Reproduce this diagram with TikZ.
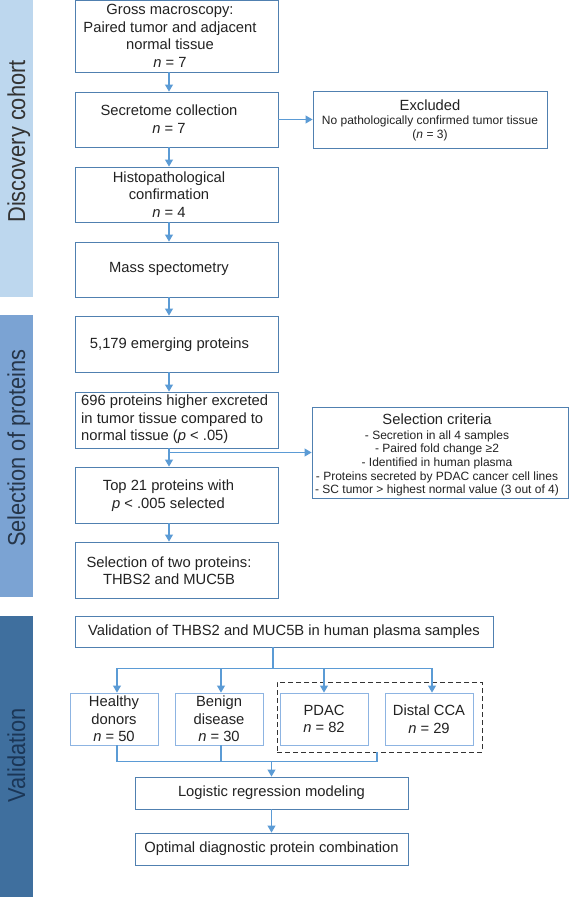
\documentclass[tikz,border=0pt]{standalone}
\usepackage{fontspec}
\setmainfont{Liberation Sans}
\usetikzlibrary{arrows.meta}
\definecolor{boxc}{HTML}{5080B0}
\definecolor{lboxc}{HTML}{8DB4E2}
\definecolor{arrc}{HTML}{5B9BD5}
\definecolor{discc}{HTML}{BDD7EE}
\definecolor{selc}{HTML}{7BA3D3}
\definecolor{valc}{HTML}{3F6F9E}
\definecolor{disct}{HTML}{333333}
\definecolor{selt}{HTML}{26364A}
\definecolor{valt}{HTML}{1B3656}
\definecolor{txtc}{HTML}{222222}
\begin{document}
\begin{tikzpicture}[x=1pt,y=-1pt,
  box/.style={draw=boxc, line width=0.9pt, inner sep=0pt, fill=white},
  lbox/.style={draw=lboxc, line width=0.9pt, inner sep=0pt, fill=white},
  txt/.style={font=\fontsize{14.75}{17.5}\selectfont, text=txtc, align=center, inner sep=0pt},
  small/.style={font=\fontsize{12}{13.6}\selectfont, text=txtc, align=center, inner sep=0pt},
  arr/.style={draw=arrc, line width=1.1pt, -{Triangle[width=8pt,length=7pt]}},
  ln/.style={draw=arrc, line width=1.1pt},
  side/.style={rotate=90, anchor=base, inner sep=0pt, font=\fontsize{24.5}{26}\selectfont}
]
\useasboundingbox (0,0) rectangle (569,899);
\fill[white] (0,0) rectangle (569,899);
% side bars
\fill[discc] (0,0) rectangle (33,297);
\fill[selc] (0,315) rectangle (33,597);
\fill[valc] (0,616) rectangle (33,897);
\node[side, text=disct] (sdisc) at (25,141.5) {\scalebox{0.89}[1]{Discovery cohort}};
\node[side, text=selt] (ssel) at (25,448) {\scalebox{0.89}[1]{Selection of proteins}};
\node[side, text=valt] (sval) at (25,755) {\scalebox{0.89}[1]{Validation}};

% main column boxes
\node[box, minimum width=203pt, minimum height=71.5pt] (b1) at (176.5,36.25) {};
\node[txt] (t1) at (170,36) {Gross macroscopy:\\Paired tumor and adjacent\\normal tissue\\\textit{n} = 7};
\node[box, minimum width=203pt, minimum height=55pt] (b2) at (176.5,119.5) {};
\node[txt] (t2) at (169,119) {Secretome collection\\\textit{n} = 7};
\node[box, minimum width=203pt, minimum height=55pt] (b3) at (176.5,194.5) {};
\node[txt] (t3) at (169,194.5) {Histopathological\\confirmation\\\textit{n} = 4};
\node[box, minimum width=203pt, minimum height=55pt] (b4) at (176.5,269.5) {};
\node[txt] (t4) at (169,269) {Mass spectometry};
\node[box, minimum width=203pt, minimum height=56pt] (b5) at (176.5,344) {};
\node[txt] (t5) at (169.5,345) {5,179 emerging proteins};
\node[box, minimum width=203pt, minimum height=56pt] (b6) at (176.5,420) {};
\node[txt, align=left, anchor=west] (t6) at (81,419.5) {696 proteins higher excreted\\in tumor tissue compared to\\normal tissue (\textit{p} {<} .05)};
\node[box, minimum width=203pt, minimum height=56pt] (b7) at (176.5,495) {};
\node[txt] (t7) at (168.5,495.5) {Top 21 proteins with\\\textit{p} {<} .005 selected};
\node[box, minimum width=203pt, minimum height=56pt] (b8) at (176.5,570) {};
\node[txt] (t8) at (169,570.5) {Selection of two proteins:\\THBS2 and MUC5B};

% side boxes
\node[box, minimum width=234pt, minimum height=57pt] (ex) at (430,119.5) {};
\node[small] (tex) at (430,120) {{\fontsize{14.75}{17}\selectfont Excluded}\\[1pt]No pathologically confirmed tumor tissue\\(\textit{n} = 3)};
\node[box, minimum width=256pt, minimum height=91pt] (sc) at (440,452.5) {};
\node[small] (tsc) at (437,455) {{\fontsize{14.75}{17}\selectfont Selection criteria}\\[1pt]- Secretion in all 4 samples\\- Paired fold change ≥2\\- Identified in human plasma\\- Proteins secreted by PDAC cancer cell lines\\- SC tumor {>} highest normal value (3 out of 4)};

% validation
\node[box, txt, minimum width=418pt, minimum height=31pt] (v) at (284,631.5) {Validation of THBS2 and MUC5B in human plasma samples};
\node[draw=black!80, dash pattern=on 5pt off 3pt, line width=0.9pt, minimum width=205pt, minimum height=70pt, inner sep=0pt] (dash) at (379.5,717) {};
\node[lbox, txt, minimum width=88pt, minimum height=52pt] (hd) at (114,719) {Healthy\\donors\\\textit{n} = 50};
\node[lbox, txt, minimum width=88pt, minimum height=52pt] (bd) at (219,719) {Benign\\disease\\\textit{n} = 30};
\node[lbox, txt, minimum width=88pt, minimum height=52pt] (pd) at (324,719) {PDAC\\\textit{n} = 82};
\node[lbox, txt, minimum width=88pt, minimum height=52pt] (dc) at (429,719) {Distal CCA\\\textit{n} = 29};
\node[box, txt, minimum width=273pt, minimum height=32pt] (lg) at (271.5,793) {Logistic regression modeling};
\node[box, txt, minimum width=273pt, minimum height=32pt] (op) at (271.5,849) {Optimal diagnostic protein combination};

% connectors main column
\foreach \a/\b in {b1/b2,b2/b3,b3/b4,b4/b5,b5/b6,b6/b7,b7/b8}
  \draw[arr] ([xshift=-7.5pt]\a.south) -- ([xshift=-7.5pt]\b.north);
\draw[arr] (b2.east) -- (ex.west);
\coordinate (br) at ([xshift=-7.5pt]b6.south |- sc.west);
\draw[arr] (br) -- (sc.west);

% validation fan-out
\coordinate (vs) at ([xshift=-11pt]v.south);
\coordinate (vj) at ([yshift=-21pt]vs);
\draw[ln] (vs) -- (vj);
\draw[ln] ([xshift=3pt]hd.north |- vj) -- ([xshift=3pt]dc.north |- vj);
\draw[arr] ([xshift=3pt]hd.north |- vj) -- ([xshift=3pt]hd.north);
\draw[arr] ([xshift=2pt]bd.north |- vj) -- ([xshift=2pt]bd.north);
\draw[arr] (pd.north |- vj) -- (pd.north);
\draw[arr] ([xshift=3pt]dc.north |- vj) -- ([xshift=3pt]dc.north);

% merge
\coordinate (mj) at ([yshift=-16pt]hd.south);
\coordinate (dj) at ([xshift=-2.5pt]dash.south);
\draw[ln] ([xshift=3pt]hd.south) -- ([xshift=3pt]hd.south |- mj) -- (dj |- mj) -- (dj);
\draw[ln] ([xshift=2pt]bd.south) -- ([xshift=2pt]bd.south |- mj);
\draw[arr] (lg.north |- mj) -- (lg.north);
\draw[arr] (lg.south) -- (op.north);
\end{tikzpicture}
\end{document}
